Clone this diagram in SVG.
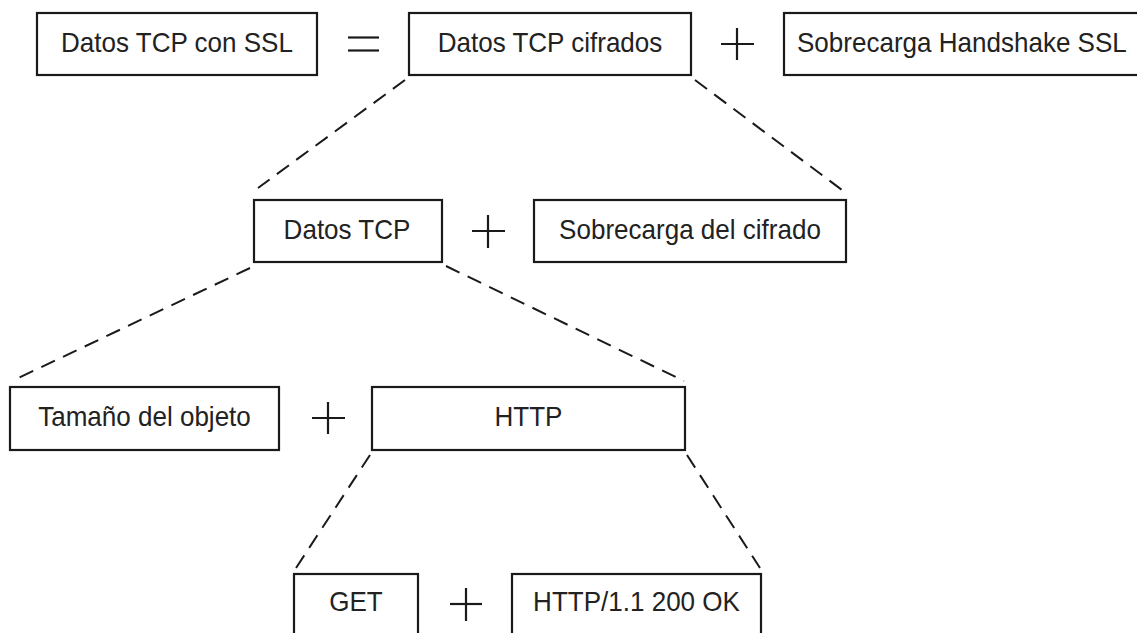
<svg xmlns="http://www.w3.org/2000/svg" width="1137" height="633" viewBox="0 0 1137 633">
<style>
.box{fill:#fff;stroke:#1a1a1a;stroke-width:2.2}
.op{stroke:#1a1a1a;stroke-width:2.2;fill:none}
.dash{stroke:#1a1a1a;stroke-width:2;stroke-dasharray:15 9;fill:none}
text{font-family:"Liberation Sans",Arial,sans-serif;font-size:28px;fill:#222}
.c{text-anchor:middle}
</style>
<rect width="1137" height="633" fill="#fff"/>
<g id="connectors">
<line class="dash" x1="405" y1="80" x2="258" y2="188"/>
<line class="dash" x1="695" y1="80" x2="842" y2="190"/>
<line class="dash" x1="250" y1="268" x2="12" y2="381"/>
<line class="dash" x1="446" y1="266" x2="684" y2="381"/>
<line class="dash" x1="370" y1="455" x2="296" y2="568"/>
<line class="dash" x1="687" y1="455" x2="760" y2="568"/>
</g>
<g id="n1"><rect class="box" x="37" y="13" width="280" height="62"/><text class="c" transform="matrix(0.93 0 0 1 177 52)">Datos TCP con SSL</text></g>
<g id="eq"><line class="op" x1="348" y1="37.5" x2="379" y2="37.5"/><line class="op" x1="348" y1="50.5" x2="379" y2="50.5"/></g>
<g id="n2"><rect class="box" x="409" y="13" width="282" height="62"/><text class="c" transform="matrix(0.93 0 0 1 550 52)">Datos TCP cifrados</text></g>
<g id="plus1"><line class="op" x1="737" y1="28" x2="737" y2="60"/><line class="op" x1="721" y1="44" x2="754" y2="44"/></g>
<g id="n3"><rect class="box" x="784" y="13" width="370" height="62"/><text transform="matrix(0.93 0 0 1 797 52)">Sobrecarga Handshake SSL</text></g>
<g id="n4"><rect class="box" x="254" y="200" width="188" height="62"/><text class="c" transform="matrix(0.93 0 0 1 347 239)">Datos TCP</text></g>
<g id="plus2"><line class="op" x1="488" y1="215" x2="488" y2="248"/><line class="op" x1="472" y1="231" x2="505" y2="231"/></g>
<g id="n5"><rect class="box" x="534" y="200" width="312" height="62"/><text class="c" transform="matrix(0.93 0 0 1 690 239)">Sobrecarga del cifrado</text></g>
<g id="n6"><rect class="box" x="10" y="387" width="269" height="63"/><text class="c" transform="matrix(0.93 0 0 1 144.5 426)">Tamaño del objeto</text></g>
<g id="plus3"><line class="op" x1="328" y1="402" x2="328" y2="434"/><line class="op" x1="312" y1="418" x2="345" y2="418"/></g>
<g id="n7"><rect class="box" x="372" y="387" width="313" height="63"/><text class="c" transform="matrix(0.93 0 0 1 528.5 426)">HTTP</text></g>
<g id="n8"><rect class="box" x="294" y="574" width="124" height="80"/><text class="c" transform="matrix(0.93 0 0 1 356 611)">GET</text></g>
<g id="plus4"><line class="op" x1="466" y1="588" x2="466" y2="621"/><line class="op" x1="450" y1="604" x2="482" y2="604"/></g>
<g id="n9"><rect class="box" x="512" y="574" width="249" height="80"/><text class="c" transform="matrix(0.93 0 0 1 636.5 611)">HTTP/1.1 200 OK</text></g>
</svg>
